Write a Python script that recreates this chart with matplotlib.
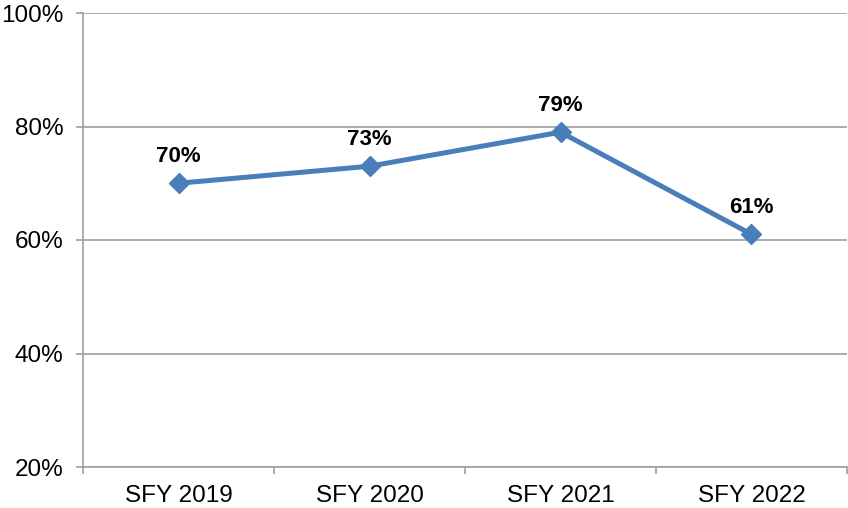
import matplotlib
matplotlib.use("Agg")
import matplotlib.pyplot as plt

categories = ["SFY 2019", "SFY 2020", "SFY 2021", "SFY 2022"]
values = [70, 73, 79, 61]
labels = ["70%", "73%", "79%", "61%"]

plt.rcParams['font.family'] = ['Liberation Sans', 'DejaVu Sans']

fig = plt.figure(figsize=(8.48, 5.08), dpi=100)
ax = fig.add_axes([83 / 848, 1 - 467 / 508, 764 / 848, (467 - 13) / 508])

x = list(range(len(categories)))
ax.plot(x, values, color="#4A7EBB", linewidth=3.6, marker="D", markersize=10.5,
        markerfacecolor="#4A7EBB", markeredgecolor="#4A7EBB", zorder=3, clip_on=False)

for xi, v, lab in zip(x, values, labels):
    ax.annotate(lab, (xi, v), xytext=(0, 12), textcoords="offset points",
                ha="center", va="bottom", fontsize=16, fontweight="bold")

ax.set_xlim(-0.5, len(categories) - 0.5)
ax.set_ylim(20, 100)
ax.set_yticks([20, 40, 60, 80, 100])
ax.set_yticklabels(["20%", "40%", "60%", "80%", "100%"], fontsize=17.5)
ax.set_xticks(x)
ax.set_xticklabels(categories, fontsize=17.5)
ax.set_xticks([i + 0.5 for i in range(-1, len(categories))], minor=True)
ax.tick_params(axis="x", which="major", length=0, pad=13)
ax.tick_params(axis="x", which="minor", length=5, color="#A0A0A0", width=1.2, direction="out")
ax.tick_params(axis="y", length=5, color="#A0A0A0", width=1.2, pad=9)

ax.grid(axis="y", color="#A0A0A0", linewidth=1.2)
ax.set_axisbelow(True)
for s in ["top", "right"]:
    ax.spines[s].set_visible(False)
for s in ["left", "bottom"]:
    ax.spines[s].set_color("#A0A0A0")
    ax.spines[s].set_linewidth(1.2)

fig.savefig("out.png", dpi=100)
